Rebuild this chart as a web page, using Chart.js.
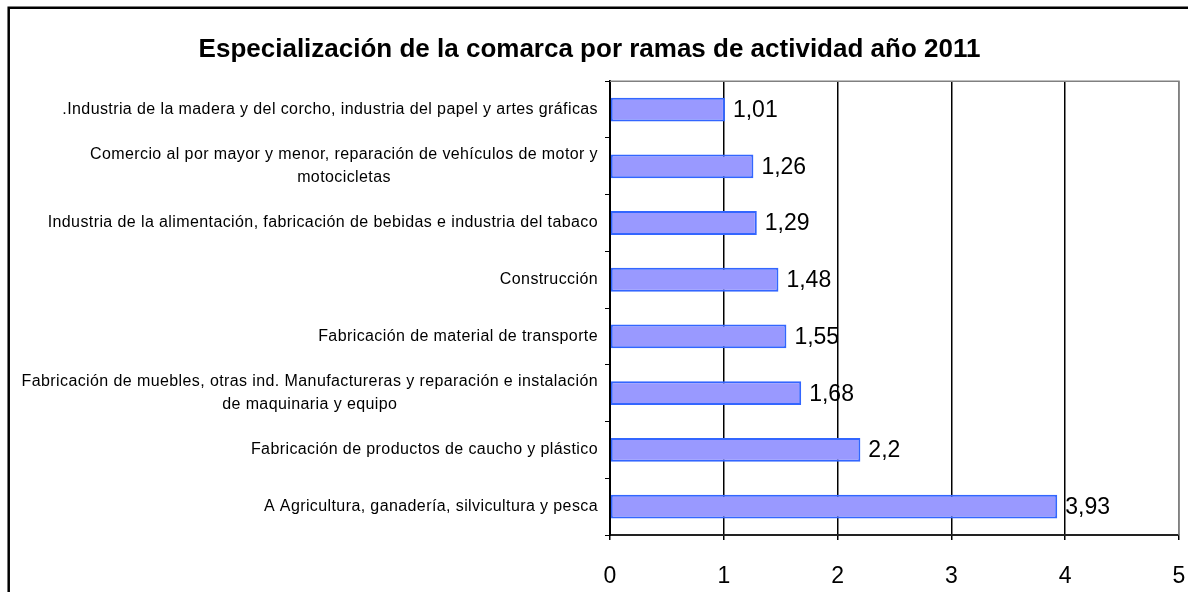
<!DOCTYPE html>
<html>
<head>
<meta charset="utf-8">
<script src="https://cdn.jsdelivr.net/npm/chart.js@4/dist/chart.umd.min.js"></script>
<style>
  html, body { margin: 0; padding: 0; background: #fff; }
  #wrap { position: relative; width: 1188px; height: 592px; }
</style>
</head>
<body>
<div id="wrap"><canvas id="c" width="1188" height="592"></canvas></div>
<script>
const titleText = 'Especialización de la comarca por ramas de actividad año 2011';
const categories = [
  '.Industria de la madera y del corcho, industria del papel y artes gráficas',
  ['Comercio al por mayor y menor, reparación de vehículos de motor y', 'motocicletas'],
  'Industria de la alimentación, fabricación de bebidas e industria del tabaco',
  'Construcción',
  'Fabricación de material de transporte',
  ['Fabricación de muebles, otras ind. Manufactureras y reparación e instalación', 'de maquinaria y equipo'],
  'Fabricación de productos de caucho y plástico',
  'A Agricultura, ganadería, silvicultura y pesca'
];
const values = [1.01, 1.26, 1.29, 1.48, 1.55, 1.68, 2.2, 3.93];
const xTicks = [0, 1, 2, 3, 4, 5];

const FONT = '"Liberation Sans", Arial, sans-serif';

const framePlugin = {
  id: 'frame',
  afterDraw(chart) {
    const ctx = chart.ctx;
    ctx.save();
    ctx.strokeStyle = '#000';
    ctx.lineWidth = 2.5;
    ctx.beginPath();
    ctx.moveTo(1188, 7.8);
    ctx.lineTo(8.7, 7.8);
    ctx.lineTo(8.7, 592);
    ctx.stroke();
    ctx.restore();
  }
};

const plotBorderPlugin = {
  id: 'plotBorder',
  beforeDatasetsDraw(chart) {
    const a = chart.chartArea, ctx = chart.ctx;
    ctx.save();
    ctx.strokeStyle = '#808080';
    ctx.lineWidth = 1.5;
    ctx.beginPath();
    ctx.moveTo(a.left, a.top);
    ctx.lineTo(a.right, a.top);
    ctx.lineTo(a.right, a.bottom);
    ctx.stroke();
    ctx.restore();
  }
};

const yLabelPlugin = {
  id: 'yLabels',
  afterDraw(chart) {
    const ctx = chart.ctx, y = chart.scales.y;
    const labels = chart.data.labels;
    ctx.save();
    ctx.fillStyle = '#000';
    ctx.font = '16px ' + FONT;
    if ('letterSpacing' in ctx) ctx.letterSpacing = '0.4px';
    ctx.textBaseline = 'middle';
    const rightX = 598;
    const lh = 23;
    labels.forEach((lab, i) => {
      const cy = y.getPixelForTick(i);
      const lines = Array.isArray(lab) ? lab : [lab];
      const widths = lines.map(l => ctx.measureText(l).width);
      const w = Math.max(...widths);
      const cx = rightX - w / 2;
      ctx.textAlign = 'center';
      lines.forEach((l, k) => {
        const ly = cy + (k - (lines.length - 1) / 2) * lh;
        ctx.fillText(l, cx, ly);
      });
    });
    ctx.restore();
  }
};

const valueLabelPlugin = {
  id: 'valueLabels',
  afterDatasetsDraw(chart) {
    const ctx = chart.ctx;
    const meta = chart.getDatasetMeta(0);
    const data = chart.data.datasets[0].data;
    ctx.save();
    ctx.fillStyle = '#000';
    ctx.font = '23px ' + FONT;
    ctx.textAlign = 'left';
    ctx.textBaseline = 'middle';
    meta.data.forEach((bar, i) => {
      const p = bar.getProps(['x', 'y'], true);
      ctx.fillText(String(data[i]).replace('.', ','), p.x + 8, p.y + 1);
    });
    ctx.restore();
  }
};

new Chart(document.getElementById('c'), {
  type: 'bar',
  data: {
    labels: categories,
    datasets: [{
      data: values,
      backgroundColor: '#9999FF',
      borderColor: '#3366FF',
      borderWidth: 2,
      borderSkipped: false,
      categoryPercentage: 1,
      barPercentage: 0.42
    }]
  },
  options: {
    indexAxis: 'y',
    responsive: false,
    animation: false,
    devicePixelRatio: 1,
    layout: { padding: { left: 0, right: 9, top: 0, bottom: 0 } },
    plugins: {
      legend: { display: false },
      tooltip: { enabled: false },
      title: {
        display: true,
        text: titleText,
        color: '#000',
        font: { family: FONT, size: 26, weight: 'bold' },
        padding: { top: 34, bottom: 16 }
      }
    },
    scales: {
      x: {
        type: 'linear',
        min: 0,
        max: 5,
        afterBuildTicks(scale) { scale.ticks = xTicks.map(v => ({ value: v })); },
        afterFit(scale) { scale.height = 57; scale.paddingLeft = 0; scale.paddingRight = 0; },
        ticks: {
          color: '#000',
          font: { family: FONT, size: 23 },
          padding: 23,
          callback: v => String(v)
        },
        grid: {
          color: ctx => (ctx.tick && ctx.tick.value === 5) ? '#808080' : '#000',
          lineWidth: 1.5,
          drawTicks: true,
          tickLength: 5,
          tickColor: '#000'
        },
        border: { display: true, color: '#222', width: 2 }
      },
      y: {
        type: 'category',
        afterFit(scale) { scale.width = 610; scale.paddingTop = 0; scale.paddingBottom = 0; },
        ticks: { display: false },
        grid: {
          offset: true,
          drawOnChartArea: false,
          drawTicks: true,
          tickLength: 5,
          color: '#000',
          lineWidth: 1
        },
        border: { display: true, color: '#000', width: 2 }
      }
    }
  },
  plugins: [plotBorderPlugin, valueLabelPlugin, yLabelPlugin, framePlugin]
});
</script>
</body>
</html>
